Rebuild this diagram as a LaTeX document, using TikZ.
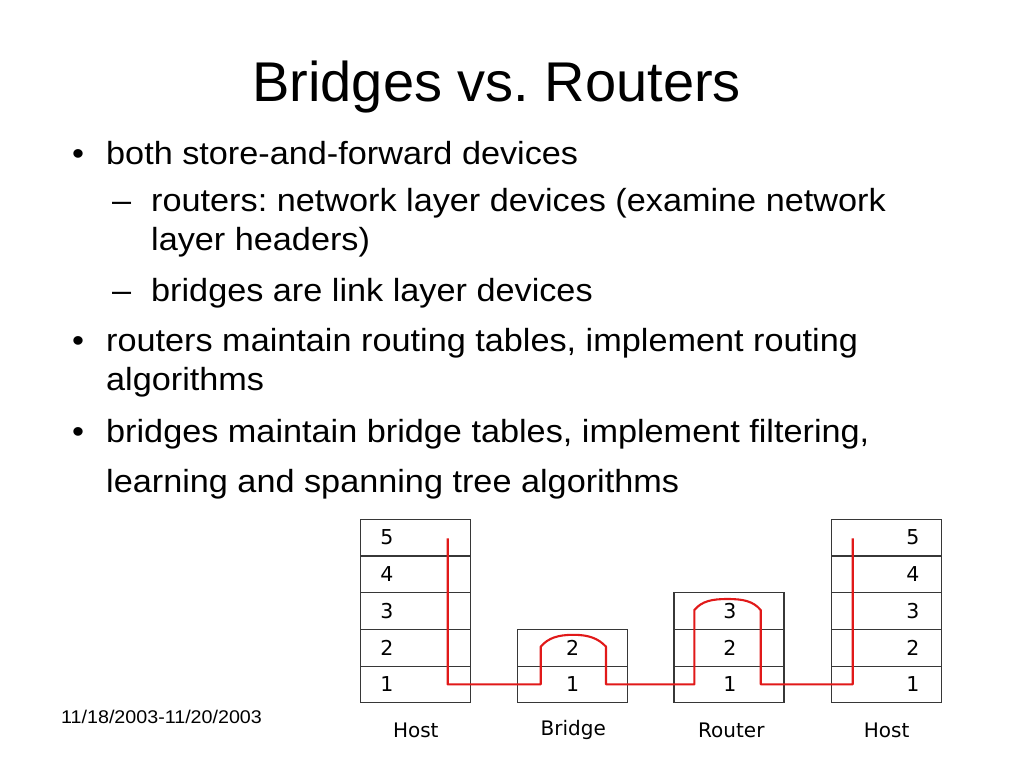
\documentclass[tikz,border=0pt]{standalone}
\usepackage{fontspec}
\setmainfont{Liberation Sans}
\newfontfamily\bodyfont[FakeStretch=1.07]{Liberation Sans}
\newfontfamily\diafont{DejaVu Sans}
\definecolor{pathred}{RGB}{225,25,25}
\definecolor{boxline}{RGB}{55,55,55}
\frenchspacing
\tikzset{
  cell/.style={draw=boxline, line width=1.2pt, minimum width=110pt, minimum height=36.7pt, inner sep=0pt, outer sep=0pt},
  num/.style={font=\diafont\fontsize{20.5}{24}\selectfont, inner sep=0pt, anchor=center},
  devlabel/.style={font=\diafont\fontsize{20}{24}\selectfont, inner sep=0pt, anchor=base},
  body/.style={font=\bodyfont\fontsize{32}{38}\selectfont, inner sep=0pt, anchor=base west},
  bul/.style={font=\bodyfont\fontsize{32}{38}\selectfont, inner sep=0pt, anchor=base},
  titletext/.style={font=\fontsize{56}{64}\selectfont, inner sep=0pt, anchor=base},
  datetext/.style={font=\bodyfont\fontsize{18.4}{22}\selectfont, inner sep=0pt, anchor=base west},
  redpath/.style={draw=pathred, line width=2.1pt, line join=round}
}
\begin{document}
\begin{tikzpicture}[x=1pt,y=-1pt]
\useasboundingbox[fill=white] (0,0) rectangle (1024,768);

% title
\node[titletext] (title) at (496.7,101.7) {Bridges vs. Routers};

% bullets
\node[bul] (b1) at (78,164) {•};
\node[body] (t1) at (106,164) {both store-and-forward devices};
\node[body] (d1) at (112,211) {–};
\node[body] (t2) at (151,211) {routers: network layer devices (examine network};
\node[body] (t3) at (151,250) {layer headers)};
\node[body] (d2) at (112,301) {–};
\node[body] (t4) at (151,301) {bridges are link layer devices};
\node[bul] (b2) at (78,351) {•};
\node[body] (t5) at (106,351) {routers maintain routing tables, implement routing};
\node[body] (t6) at (106,390) {algorithms};
\node[bul] (b3) at (78,442) {•};
\node[body] (t7) at (106,442) {bridges maintain bridge tables, implement filtering,};
\node[body] (t8) at (106,492) {learning and spanning tree algorithms};

% date
\node[datetext] (date) at (61,723) {11/18/2003-11/20/2003};

% Host left
\node[cell] (hl5) at (415.35,537.65) {};
\node[cell] (hl4) at (415.35,574.35) {};
\node[cell] (hl3) at (415.35,611.05) {};
\node[cell] (hl2) at (415.35,647.75) {};
\node[cell] (hl1) at (415.35,684.45) {};
\node[num] at (387,537.65) {5};
\node[num] at (387,574.35) {4};
\node[num] at (387,611.05) {3};
\node[num] at (387,647.75) {2};
\node[num] at (387,684.45) {1};

% Bridge
\node[cell] (br2) at (572.3,647.75) {};
\node[cell] (br1) at (572.3,684.45) {};
\node[num] at (572.7,647.75) {2};
\node[num] at (572.7,684.45) {1};

% Router
\node[cell] (ro3) at (729,611.05) {};
\node[cell] (ro2) at (729,647.75) {};
\node[cell] (ro1) at (729,684.45) {};
\node[num] at (730,611.05) {3};
\node[num] at (730,647.75) {2};
\node[num] at (730,684.45) {1};

% Host right
\node[cell] (hr5) at (886.7,537.65) {};
\node[cell] (hr4) at (886.7,574.35) {};
\node[cell] (hr3) at (886.7,611.05) {};
\node[cell] (hr2) at (886.7,647.75) {};
\node[cell] (hr1) at (886.7,684.45) {};
\node[num] at (913,537.65) {5};
\node[num] at (913,574.35) {4};
\node[num] at (913,611.05) {3};
\node[num] at (913,647.75) {2};
\node[num] at (913,684.45) {1};

% labels
\node[devlabel] (lhost) at (415.8,737.7) {Host};
\node[devlabel] (lbridge) at (573.3,735) {Bridge};
\node[devlabel] (lrouter) at (731.3,737.7) {Router};
\node[devlabel] (rhost) at (886.7,737.7) {Host};

% red path
\coordinate (p0) at (447.7,538.3);
\coordinate (p1) at (447.7,684.4);
\coordinate (p2) at (540.7,684.4);
\coordinate (p3) at (540.7,646.7);
\coordinate (bt) at (573.3,634.8);
\coordinate (p4) at (606,646.7);
\coordinate (p5) at (606,684.4);
\coordinate (p6) at (694.3,684.4);
\coordinate (p7) at (694.3,610);
\coordinate (rt) at (727.5,599);
\coordinate (p8) at (760.7,610);
\coordinate (p9) at (760.7,684.4);
\coordinate (p10) at (852.7,684.4);
\coordinate (p11) at (852.7,538.3);
\draw[redpath] (p0) -- (p1) -- (p2) -- (p3)
  .. controls (548,638) and (558,634.8) .. (bt)
  .. controls (588,634.8) and (598,638) .. (p4)
  -- (p5) -- (p6) -- (p7)
  .. controls (702,601) and (712,599) .. (rt)
  .. controls (743,599) and (753,601) .. (p8)
  -- (p9) -- (p10) -- (p11);
\end{tikzpicture}
\end{document}
